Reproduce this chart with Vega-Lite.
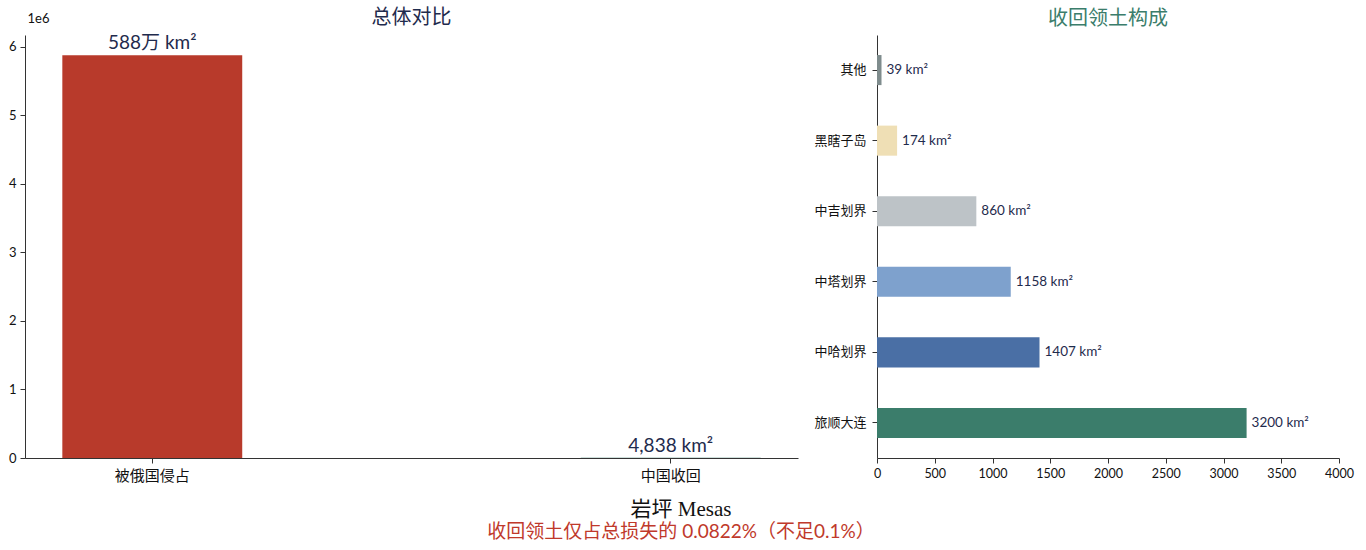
{
  "$schema": "https://vega.github.io/schema/vega-lite/v6.json",
  "background": "white",
  "padding": {"left": 8, "right": 6, "top": 8, "bottom": 2},
  "datasets": {
    "total": [
      {"类别": "被俄国侵占", "面积": 5880000, "标签": "588万 km²"},
      {"类别": "中国收回", "面积": 4838, "标签": "4,838 km²"}
    ],
    "parts": [
      {"地区": "其他", "面积": 39, "标签": "39 km²"},
      {"地区": "黑瞎子岛", "面积": 174, "标签": "174 km²"},
      {"地区": "中吉划界", "面积": 860, "标签": "860 km²"},
      {"地区": "中塔划界", "面积": 1158, "标签": "1158 km²"},
      {"地区": "中哈划界", "面积": 1407, "标签": "1407 km²"},
      {"地区": "旅顺大连", "面积": 3200, "标签": "3200 km²"}
    ]
  },
  "title": {
    "text": "岩坪 Mesas",
    "subtitle": "收回领土仅占总损失的 0.0822%（不足0.1%）",
    "orient": "bottom",
    "anchor": "middle",
    "font": "Liberation Serif, Noto Sans CJK SC",
    "fontSize": 21,
    "fontWeight": "normal",
    "color": "#111111",
    "subtitleFont": "Lato, Noto Sans CJK SC",
    "subtitleFontSize": 19,
    "subtitleColor": "#c0392b",
    "subtitlePadding": 3,
    "offset": 16
  },
  "spacing": 15,
  "resolve": {"scale": {"color": "independent"}},
  "hconcat": [
    {
      "width": 773,
      "height": 423,
      "title": {"text": "总体对比", "color": "#1f2b4d", "fontSize": 20, "fontWeight": "normal", "offset": -16},
      "data": {"name": "total"},
      "encoding": {
        "x": {
          "field": "类别",
          "type": "nominal",
          "sort": null,
          "scale": {"paddingInner": 0.653, "paddingOuter": 0.072},
          "axis": {"title": null, "labelAngle": 0, "labelFontSize": 15, "labelColor": "#111111", "labelPadding": 5}
        },
        "y": {
          "field": "面积",
          "type": "quantitative",
          "scale": {"domain": [0, 6174000], "nice": false},
          "axis": {
            "values": [0, 1000000, 2000000, 3000000, 4000000, 5000000, 6000000],
            "labelExpr": "format(datum.value / 1000000, 'd')",
            "title": "1e6",
            "titleAngle": 0,
            "titleX": 2,
            "titleY": -10,
            "titleAlign": "left",
            "titleFontSize": 13,
            "titleFontWeight": "normal",
            "grid": false,
            "labelFontSize": 13,
            "labelPadding": 4
          }
        }
      },
      "layer": [
        {
          "mark": {"type": "bar"},
          "encoding": {
            "color": {
              "field": "类别",
              "type": "nominal",
              "scale": {"domain": ["被俄国侵占", "中国收回"], "range": ["#b83a2b", "#3b7d6b"]},
              "legend": null
            }
          }
        },
        {
          "mark": {"type": "text", "baseline": "bottom", "dy": -2, "fontSize": 19, "color": "#1f2b4d"},
          "encoding": {"text": {"field": "标签"}}
        }
      ]
    },
    {
      "width": 462,
      "height": 423,
      "title": {"text": "收回领土构成", "color": "#3b7d6b", "fontSize": 20, "fontWeight": "normal", "offset": 6},
      "data": {"name": "parts"},
      "encoding": {
        "y": {
          "field": "地区",
          "type": "nominal",
          "sort": null,
          "scale": {"paddingInner": 0.574, "paddingOuter": 0.284},
          "axis": {"title": null, "labelFontSize": 13, "labelColor": "#111111", "labelPadding": 6}
        },
        "x": {
          "field": "面积",
          "type": "quantitative",
          "scale": {"domain": [0, 4000], "nice": false},
          "axis": {
            "title": null,
            "values": [0, 500, 1000, 1500, 2000, 2500, 3000, 3500, 4000],
            "format": "d",
            "grid": false,
            "labelFontSize": 12.5,
            "labelPadding": 4,
            "labelFlush": false
          }
        }
      },
      "layer": [
        {
          "mark": {"type": "bar"},
          "encoding": {
            "color": {
              "field": "地区",
              "type": "nominal",
              "scale": {
                "domain": ["其他", "黑瞎子岛", "中吉划界", "中塔划界", "中哈划界", "旅顺大连"],
                "range": ["#7f8c8d", "#efdfb5", "#bdc3c7", "#7ea1cd", "#4a6fa5", "#3b7d6b"]
              },
              "legend": null
            }
          }
        },
        {
          "mark": {"type": "text", "align": "left", "dx": 5, "fontSize": 13.5, "color": "#1f2b4d"},
          "encoding": {"text": {"field": "标签"}}
        }
      ]
    }
  ],
  "config": {
    "font": "Lato, Noto Sans CJK SC",
    "view": {"stroke": null},
    "axis": {
      "domainColor": "#333333",
      "tickColor": "#333333",
      "tickSize": 5,
      "labelFont": "Lato, Noto Sans CJK SC",
      "titleFont": "Lato, Noto Sans CJK SC",
      "labelColor": "#111111",
      "titleColor": "#111111"
    },
    "title": {"font": "Lato, Noto Sans CJK SC"}
  }
}
